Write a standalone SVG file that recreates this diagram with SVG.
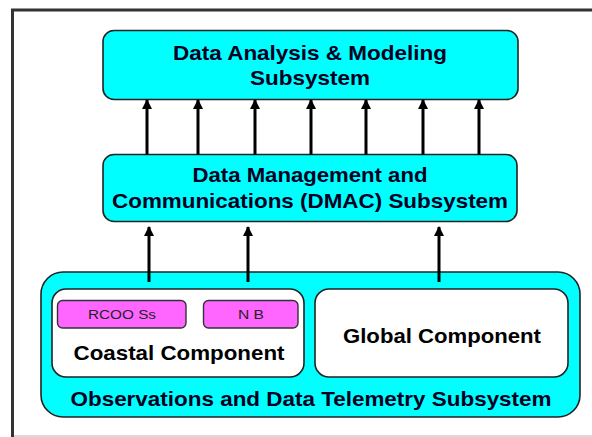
<svg xmlns="http://www.w3.org/2000/svg" width="592" height="437" viewBox="0 0 592 437">
  <style>
    .box { fill: #00ffff; stroke: #222; stroke-width: 1.6; }
    .inner { fill: #ffffff; stroke: #222; stroke-width: 1.6; }
    .tag { fill: #ff66ff; stroke: #333; stroke-width: 1.4; }
    .lbl { font-family: "Liberation Sans", Arial, sans-serif; font-weight: bold; font-size: 21px; fill: #000022; text-anchor: middle; }
    .dark { fill: #000; }
    .small { font-family: "Liberation Sans", Arial, sans-serif; font-size: 13px; fill: #222; text-anchor: middle; }
    .arrow { stroke: #000; stroke-width: 3; fill: none; marker-end: url(#head); }
  </style>
  <defs>
    <marker id="head" viewBox="0 0 10 10" refX="9" refY="5" markerWidth="10" markerHeight="10" markerUnits="userSpaceOnUse" orient="auto">
      <path d="M0,0 L10,5 L0,10 z" fill="#000"/>
    </marker>
  </defs>

  <rect width="592" height="437" fill="#ffffff"/>

  <!-- frame -->
  <g id="frame">
    <line x1="11" y1="10" x2="592" y2="10" stroke="#333" stroke-width="3"/>
    <line x1="12.5" y1="9" x2="12.5" y2="437" stroke="#333" stroke-width="3"/>
    <line x1="14" y1="436" x2="592" y2="436" stroke="#cccccc" stroke-width="1.5"/>
  </g>

  <!-- Data Analysis & Modeling -->
  <g id="analysis">
    <rect class="box" x="103" y="30.5" width="415" height="69" rx="11"/>
    <text class="lbl" x="310" y="60" textLength="274" lengthAdjust="spacingAndGlyphs">Data Analysis &amp; Modeling</text>
    <text class="lbl" x="310" y="85" textLength="120" lengthAdjust="spacingAndGlyphs">Subsystem</text>
  </g>

  <!-- DMAC -->
  <g id="dmac">
    <rect class="box" x="103" y="154.5" width="414" height="67" rx="11"/>
    <text class="lbl" x="310" y="182" textLength="235" lengthAdjust="spacingAndGlyphs">Data Management and</text>
    <text class="lbl" x="310" y="208" textLength="396" lengthAdjust="spacingAndGlyphs">Communications (DMAC) Subsystem</text>
  </g>

  <!-- Observations and Data Telemetry -->
  <g id="observations">
    <rect class="box" x="41" y="272" width="539" height="145" rx="22"/>
    <text class="lbl" x="311" y="406" textLength="481" lengthAdjust="spacingAndGlyphs">Observations and Data Telemetry Subsystem</text>
  </g>

  <g id="coastal">
    <rect class="inner" x="52" y="289" width="252" height="88" rx="14"/>
    <text class="lbl dark" x="179" y="360" textLength="211" lengthAdjust="spacingAndGlyphs">Coastal Component</text>
  </g>

  <g id="rcooss">
    <rect class="tag" x="57.5" y="300.5" width="128.5" height="27.5" rx="5"/>
    <text class="small" x="122" y="319" textLength="68" lengthAdjust="spacingAndGlyphs">RCOO Ss</text>
  </g>

  <g id="nb">
    <rect class="tag" x="203.5" y="300.5" width="94.5" height="27.5" rx="5"/>
    <text class="small" x="251" y="319" textLength="26" lengthAdjust="spacingAndGlyphs">N B</text>
  </g>

  <g id="global">
    <rect class="inner" x="315" y="289" width="253" height="88" rx="14"/>
    <text class="lbl dark" x="442" y="343" textLength="198" lengthAdjust="spacingAndGlyphs">Global Component</text>
  </g>

  <!-- connectors -->
  <g id="connectors">
    <line class="arrow" x1="147" y1="155" x2="147" y2="100"/>
    <line class="arrow" x1="198" y1="155" x2="198" y2="100"/>
    <line class="arrow" x1="255" y1="155" x2="255" y2="100"/>
    <line class="arrow" x1="311" y1="155" x2="311" y2="100"/>
    <line class="arrow" x1="366" y1="155" x2="366" y2="100"/>
    <line class="arrow" x1="423" y1="155" x2="423" y2="100"/>
    <line class="arrow" x1="479" y1="155" x2="479" y2="100"/>
    <line class="arrow" x1="149" y1="282" x2="149" y2="227"/>
    <line class="arrow" x1="248" y1="282" x2="248" y2="227"/>
    <line class="arrow" x1="439" y1="282" x2="439" y2="227"/>
  </g>
</svg>
